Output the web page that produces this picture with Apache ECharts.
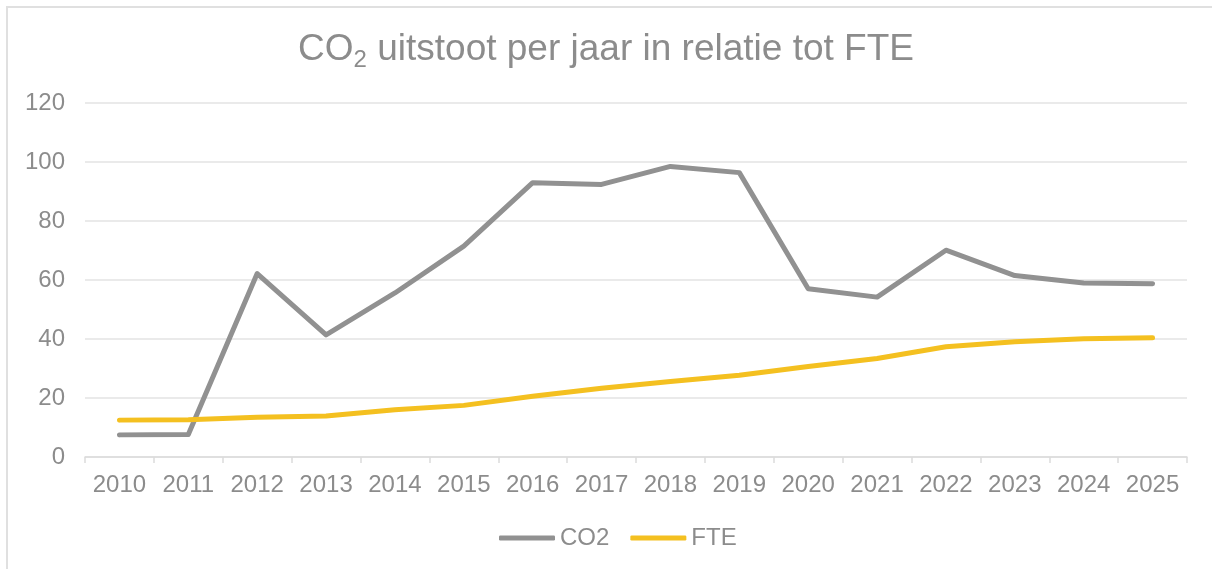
<!DOCTYPE html>
<html>
<head>
<meta charset="utf-8">
<script src="https://cdn.jsdelivr.net/npm/echarts@6/dist/echarts.min.js"></script>
<style>
  html, body { margin: 0; padding: 0; background: #fff; }
  #frame { position: absolute; left: 6px; top: 6px; width: 1220px; height: 580px;
           border-left: 2px solid #e0e0e0; border-top: 2px solid #e0e0e0; }
  #chart { position: absolute; left: 0; top: 0; width: 1212px; height: 569px; }
</style>
</head>
<body>
<div id="frame"></div>
<div id="chart"></div>
<script>
// jaren op de x-as
var years = ['2010','2011','2012','2013','2014','2015','2016','2017',
             '2018','2019','2020','2021','2022','2023','2024','2025'];
// CO2 uitstoot per jaar
var co2 = [7.5, 7.6, 62.2, 41.4, 55.6, 71.5, 93.0, 92.4, 98.5, 96.4, 57.0, 54.2, 70.1, 61.5, 59.0, 58.7];
// FTE per jaar
var fte = [12.5, 12.6, 13.5, 13.9, 16.0, 17.5, 20.6, 23.3, 25.6, 27.7, 30.7, 33.4, 37.4, 39.1, 40.1, 40.4];

var textColor = '#8c8c8c';
var font = 'Liberation Sans, Arial, sans-serif';

var myChart = echarts.init(document.getElementById('chart'));
myChart.setOption({
  animation: false,
  title: {
    text: '{a|CO}{b|2}{a| uitstoot per jaar in relatie tot FTE}',
    left: 'center',
    top: 23,
    textStyle: {
      rich: {
        a: { fontFamily: font, fontSize: 37, fontWeight: 'normal', color: textColor },
        b: { fontFamily: font, fontSize: 24, fontWeight: 'normal', color: textColor, padding: [20, 0, 0, 0] }
      }
    }
  },
  legend: {
    data: ['CO2', 'FTE'],
    left: 494,
    top: 521,
    icon: 'roundRect',
    itemWidth: 56,
    itemHeight: 5,
    itemGap: 21,
    textStyle: { fontFamily: font, fontSize: 24, color: textColor }
  },
  grid: { left: 85, right: 25, top: 103, bottom: 112 },
  xAxis: {
    type: 'category',
    data: years,
    boundaryGap: true,
    axisLine: { lineStyle: { color: '#dcdcdc', width: 1.5 } },
    axisTick: { show: true, length: 6, interval: 0, lineStyle: { color: '#dcdcdc', width: 1.5 } },
    axisLabel: { fontFamily: font, fontSize: 24, color: textColor, margin: 16, interval: 0 }
  },
  yAxis: {
    type: 'value',
    min: 0,
    max: 120,
    interval: 20,
    axisLine: { show: false },
    axisTick: { show: false },
    axisLabel: { fontFamily: font, fontSize: 24, color: textColor, margin: 20 },
    splitLine: { lineStyle: { color: '#e3e3e3', width: 1.5 } }
  },
  series: [
    {
      name: 'CO2',
      type: 'line',
      data: co2,
      showSymbol: false,
      color: '#919191',
      lineStyle: { width: 5, color: '#919191', cap: 'round', join: 'round' }
    },
    {
      name: 'FTE',
      type: 'line',
      data: fte,
      showSymbol: false,
      color: '#f4c020',
      lineStyle: { width: 5, color: '#f4c020', cap: 'round', join: 'round' }
    }
  ]
});
</script>
</body>
</html>
